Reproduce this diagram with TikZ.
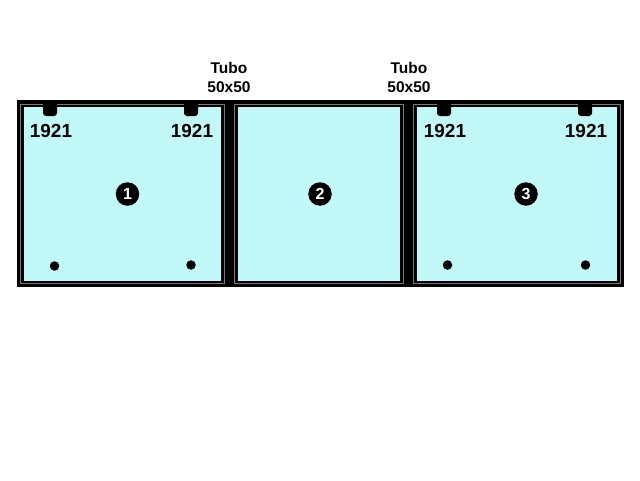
\documentclass[tikz,border=0pt]{standalone}
\usepackage{fontspec}
\setmainfont{Liberation Sans}
\definecolor{glass}{RGB}{194,248,248}
\definecolor{frameline}{RGB}{120,120,120}
\tikzset{
  px/.style={x=1pt,y=-1pt},
  glasspane/.style={fill=glass,draw=none},
  gasket/.style={draw=frameline,line width=1pt},
  bar/.style={fill=black,draw=none},
  hole/.style={circle,fill=black,draw=none,minimum size=9.5pt,inner sep=0pt},
  clip tab/.style={fill=black,draw=none,rounded corners=3pt},
  code/.style={font=\bfseries\fontsize{18.9}{20}\selectfont,inner sep=0pt,text=black},
  tube/.style={font=\bfseries\fontsize{15.5}{19}\selectfont,inner sep=0pt,align=center,text=black},
  badge/.style={circle,fill=black,text=white,minimum size=23.5pt,inner sep=0pt,font=\bfseries\fontsize{16}{16}\selectfont}
}
\begin{document}
\begin{tikzpicture}[px]
\useasboundingbox (0,0) rectangle (640,480);
\fill[white] (0,0) rectangle (640,480);
% frame body
\path[bar] (17,100) rectangle (624,287);
% gaskets
\draw[gasket] (20.5,104.5) rectangle (224.5,283.5);
\draw[gasket] (234.5,104.5) rectangle (403.5,283.5);
\draw[gasket] (413.5,104.5) rectangle (620.5,283.5);
% glass panes
\path[glasspane] (24,107) rectangle (221,281);
\path[glasspane] (238,107) rectangle (400,281);
\path[glasspane] (416.5,107) rectangle (617,281);
% top tabs
\path[clip tab] (43,100) rectangle (57,116);
\path[clip tab] (184,100) rectangle (198,116);
\path[clip tab] (437,100) rectangle (451,116);
\path[clip tab] (578,100) rectangle (592,116);
% labels
\node[code] (c1) at (51,130.5) {1921};
\node[code] (c2) at (192,130.5) {1921};
\node[code] (c3) at (445,130.5) {1921};
\node[code] (c4) at (586,130.5) {1921};
\node[tube] (t1) at (229,77.5) {Tubo\\50x50};
\node[tube] (t2) at (409,77.5) {Tubo\\50x50};
% badges
\node[badge] (b1) at (127.5,194) {1};
\node[badge] (b2) at (320,194) {2};
\node[badge] (b3) at (526,194) {3};
% holes
\node[hole] (h1) at (54.5,266) {};
\node[hole] (h2) at (191,265) {};
\node[hole] (h3) at (447.5,265) {};
\node[hole] (h4) at (585.5,265) {};
\end{tikzpicture}
\end{document}
